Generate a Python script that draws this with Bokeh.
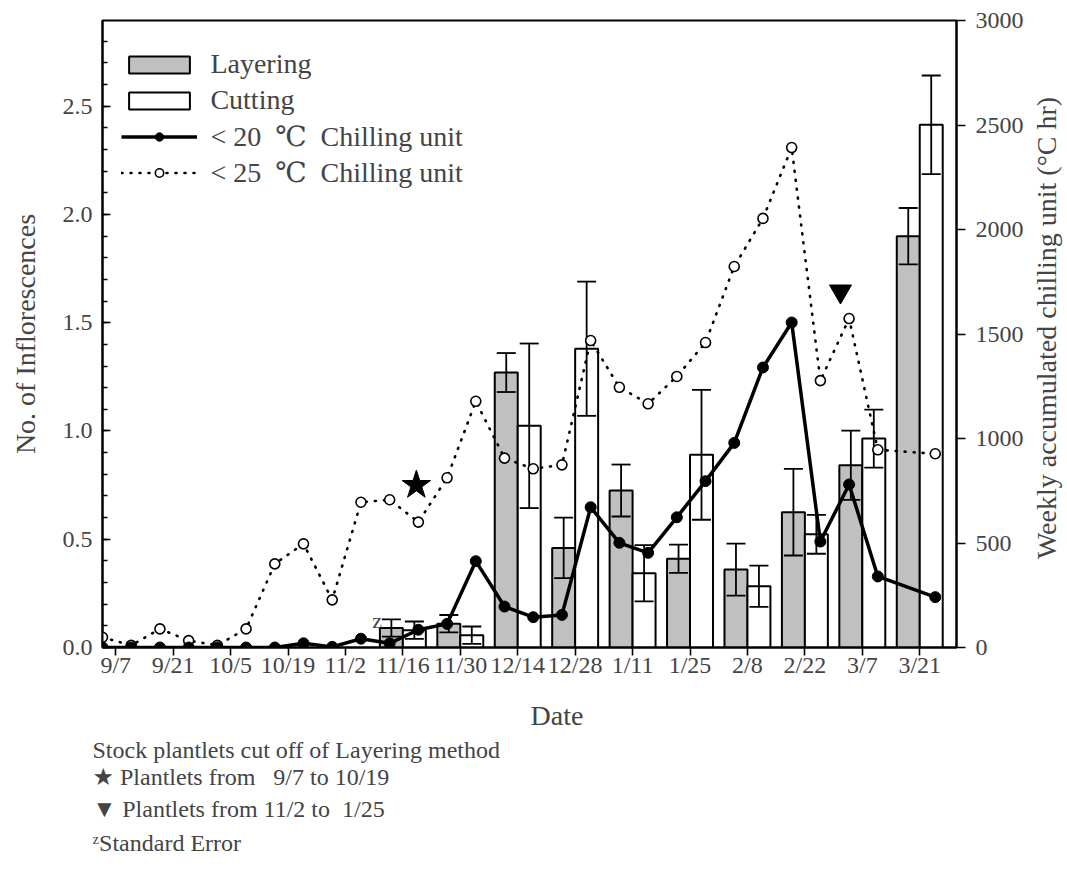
import math

from bokeh.plotting import figure
from bokeh.models import (Range1d, LinearAxis, FixedTicker, SingleIntervalTicker,
                          NumeralTickFormatter, Label, Title, ColumnDataSource, Legend,
                          LegendItem)
from bokeh.embed import file_html
from bokeh.resources import INLINE

FONT = "Liberation Serif"
# serif text with a fallback that carries the degree / star / triangle symbols
FONT_SYM = "Liberation Serif, DejaVu Serif, DejaVu Sans"
NBSP = "\u00a0"

# Biweekly date ticks along the x axis
tick_labels = ["9/7", "9/21", "10/5", "10/19", "11/2", "11/16", "11/30", "12/14",
               "12/28", "1/11", "1/25", "2/8", "2/22", "3/7", "3/21"]
# tick position in weeks counted from the first weekly record
tick_x = [2 * k + 0.46 for k in range(len(tick_labels))]

# Number of inflorescences per plantlet (mean and standard error)
bar_dates = ["11/16", "11/30", "12/14", "12/28", "1/11", "1/25", "2/8", "2/22", "3/7", "3/21"]
layering = [0.09, 0.11, 1.27, 0.46, 0.725, 0.41, 0.36, 0.625, 0.842, 1.90]
layering_se = [0.04, 0.04, 0.09, 0.14, 0.12, 0.065, 0.12, 0.20, 0.16, 0.13]
cutting = [0.08, 0.057, 1.024, 1.38, 0.343, 0.89, 0.283, 0.523, 0.965, 2.414]
cutting_se = [0.04, 0.04, 0.38, 0.31, 0.13, 0.30, 0.095, 0.09, 0.134, 0.228]

# Weekly accumulated chilling units (deg C hr); week 28 was not recorded
week = list(range(28)) + [29]
chill_20 = [0, 0, 0, 0, 0, 0, 0, 20, 3, 42, 20, 85, 113, 413, 196, 145, 156, 671,
            501, 453, 623, 796, 979, 1340, 1555, 507, 780, 340, 241]
chill_25 = [49, 10, 89, 33, 10, 89, 400, 496, 228, 695, 707, 600, 812, 1178, 906, 855,
            874, 1469, 1245, 1166, 1297, 1459, 1823, 2053, 2392, 1277, 1574, 946, 927]

# Cut-off markers for the stock plantlets (week, inflorescence scale)
star_at = (10.93, 0.75)
tri_at = (25.7, 1.645)

bar_x = [tick_x[tick_labels.index(d)] for d in bar_dates]
bar_w = 0.8
src = ColumnDataSource(dict(
    gx=[x - bar_w / 2 for x in bar_x],
    wx=[x + bar_w / 2 for x in bar_x],
    lay=layering,
    lay_lo=[v - e for v, e in zip(layering, layering_se)],
    lay_hi=[v + e for v, e in zip(layering, layering_se)],
    cut=cutting,
    cut_lo=[v - e for v, e in zip(cutting, cutting_se)],
    cut_hi=[v + e for v, e in zip(cutting, cutting_se)],
))

p = figure(width=1067, height=871, output_backend="svg", toolbar_location=None,
           x_range=Range1d(0, 29.74), y_range=Range1d(0, 2.896),
           min_border_left=102, min_border_right=111, min_border_top=20,
           min_border_bottom=224)
p.xgrid.visible = False
p.ygrid.visible = False
p.outline_line_color = "black"
p.outline_line_width = 2
p.background_fill_color = "white"
p.border_fill_color = "white"
p.extra_y_ranges = {"chill": Range1d(0, 3000)}

# bars
gray_r = p.vbar(x="gx", top="lay", bottom=0, width=bar_w, source=src,
                fill_color="#c0c0c0", line_color="black", line_width=2)
white_r = p.vbar(x="wx", top="cut", bottom=0, width=bar_w, source=src,
                 fill_color="white", line_color="black", line_width=2)

# standard error bars
for xc, lo, hi in (("gx", "lay_lo", "lay_hi"), ("wx", "cut_lo", "cut_hi")):
    p.segment(x0=xc, y0=lo, x1=xc, y1=hi, source=src, line_color="black", line_width=1.8)
    p.scatter(x=xc, y=lo, source=src, marker="dash", size=19, line_color="black", line_width=1.8)
    p.scatter(x=xc, y=hi, source=src, marker="dash", size=19, line_color="black", line_width=1.8)

# chilling unit lines
l25 = p.line(week, chill_25, y_range_name="chill", line_color="black", line_width=2.6,
             line_dash="1 8", line_cap="round")
s25 = p.scatter(week, chill_25, y_range_name="chill", marker="circle", size=10,
                fill_color="white", line_color="black", line_width=1.6)
l20 = p.line(week, chill_20, y_range_name="chill", line_color="black", line_width=3.5)
s20 = p.scatter(week, chill_20, y_range_name="chill", marker="circle", size=11,
                fill_color="black", line_color="black")

p.scatter([star_at[0]], [star_at[1]], marker="star", size=30, fill_color="black",
          line_color="black")
p.scatter([tri_at[0]], [tri_at[1]], marker="inverted_triangle", size=22,
          fill_color="black", line_color="black")

# left axis
yl = p.yaxis[0]
yl.ticker = SingleIntervalTicker(interval=0.5, num_minor_ticks=5)
yl.formatter = NumeralTickFormatter(format="0.0")
yl.axis_label = "No. of Inflorescences"
yl.axis_label_text_font = FONT
yl.axis_label_text_font_size = "28px"
yl.axis_label_text_font_style = "normal"
yl.axis_label_standoff = 19
yl.major_label_text_font = FONT
yl.major_label_text_font_size = "24px"
yl.major_label_standoff = 10
yl.major_tick_in = 8
yl.major_tick_out = 0
yl.minor_tick_in = 5
yl.minor_tick_out = 0
yl.axis_line_width = 2
yl.major_tick_line_width = 1.6
yl.minor_tick_line_width = 1.6

# bottom axis
xa = p.xaxis[0]
xa.ticker = FixedTicker(ticks=tick_x, minor_ticks=[])
xa.major_label_overrides = {t: lab for t, lab in zip(tick_x, tick_labels)}
xa.major_label_text_font = FONT
xa.major_label_text_font_size = "24px"
xa.major_label_standoff = -4
xa.major_tick_in = 0
xa.major_tick_out = 8
xa.axis_line_width = 2
xa.major_tick_line_width = 1.6

# x axis title, set a little right of the frame centre
p.add_layout(Title(text="Date", align="left", offset=428, standoff=34,
                   text_font=FONT, text_font_size="28px", text_font_style="normal"),
             "below")

# right axis
yr = LinearAxis(y_range_name="chill",
                ticker=SingleIntervalTicker(interval=500, num_minor_ticks=0))
yr.major_label_text_font = FONT
yr.major_label_text_font_size = "24px"
yr.major_label_standoff = 10
yr.major_tick_in = 0
yr.major_tick_out = 9
yr.minor_tick_in = 0
yr.minor_tick_out = 0
yr.axis_line_width = 2
yr.major_tick_line_width = 1.6
p.add_layout(yr, "right")

# right axis title, reading from bottom to top
p.add_layout(Label(x=32.87, y=1.476, text="Weekly accumulated chilling unit (°C hr)",
                   angle=math.pi / 2, text_align="center", text_baseline="middle",
                   text_font=FONT, text_font_size="28px"), "right")

# legend
legend = Legend(items=[
    LegendItem(label="Layering", renderers=[gray_r]),
    LegendItem(label="Cutting", renderers=[white_r]),
    LegendItem(label="< 20" + NBSP * 2 + "℃" + NBSP * 2 + "Chilling unit", renderers=[l20, s20]),
    LegendItem(label="< 25" + NBSP * 2 + "℃" + NBSP * 2 + "Chilling unit", renderers=[l25, s25]),
], location=(19.4, 457), glyph_width=76, glyph_height=21, label_standoff=13,
    label_height=36, spacing=0, padding=0, margin=0, border_line_alpha=0,
    background_fill_alpha=0, label_text_font=FONT_SYM, label_text_font_size="28px")
p.add_layout(legend)

# standard error marker label
p.add_layout(Label(x=9.565, y=0.125, text="z", text_align="center",
                   text_baseline="middle", text_font=FONT, text_font_size="22px"))

# notes below the chart
notes = [
    ("Stock plantlets cut off of Layering method", -26),
    ("★ Plantlets from" + NBSP * 3 + "9/7 to 10/19", 24),
    ("▼ Plantlets from 11/2 to" + NBSP * 2 + "1/25", -16),
    ("ᶻStandard Error", 29),
]
for txt, gap in notes:
    p.add_layout(Title(text=txt, align="left", offset=-10, standoff=gap,
                       text_font=FONT_SYM, text_font_size="24px",
                       text_font_style="normal"), "below")

open("out.html", "w").write(file_html(p, INLINE))
